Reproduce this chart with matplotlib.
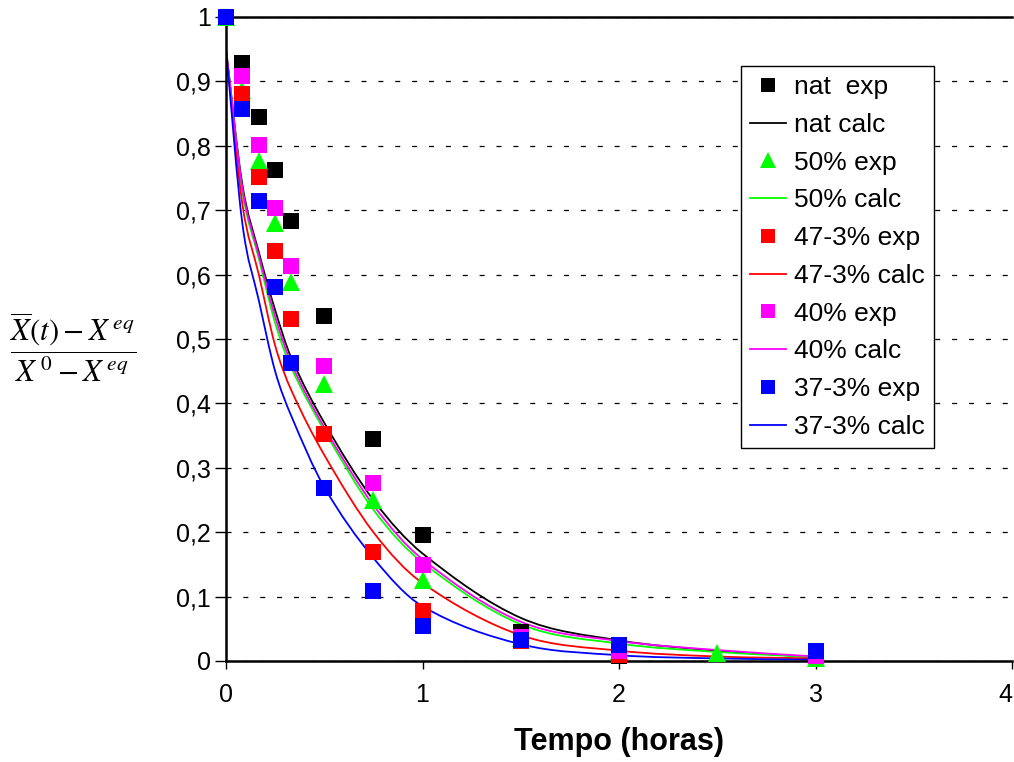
import matplotlib
matplotlib.use('Agg')
import matplotlib.pyplot as plt
import numpy as np
from matplotlib.path import Path
from matplotlib.patches import PathPatch
from matplotlib.lines import Line2D

plt.rcParams['font.family'] = ['Liberation Sans', 'DejaVu Sans']
plt.rcParams['mathtext.fontset'] = 'stix'

# experimental times (hours)
t_exp = [0, 0.083, 0.167, 0.25, 0.333, 0.5, 0.75, 1, 1.5, 2, 2.5, 3]
# calculated curve times (hours)
t_calc = [0, 0.083, 0.167, 0.25, 0.333, 0.5, 0.75, 1, 1.5, 2, 2.5, 3]

nat_exp = [1, 0.929, 0.844, 0.762, 0.683, 0.536, 0.344, 0.196, 0.045, 0.008, None, None]
p50_exp = [1, 0.887, 0.777, 0.680, 0.589, 0.430, 0.250, 0.126, 0.035, 0.015, 0.013, 0.005]
p47_exp = [1, 0.880, 0.752, 0.637, 0.531, 0.352, 0.169, 0.078, 0.031, 0.010, None, 0.010]
p40_exp = [1, 0.908, 0.801, 0.703, 0.613, 0.458, 0.277, 0.149, 0.037, 0.015, None, 0.008]
p37_exp = [1, 0.857, 0.714, 0.581, 0.462, 0.269, 0.109, 0.054, 0.033, 0.025, None, 0.016]

nat_calc = [0.95, 0.740, 0.635, 0.545, 0.470, 0.370, 0.250, 0.167, 0.067, 0.032, 0.016, 0.006]
p50_calc = [0.95, 0.730, 0.625, 0.525, 0.455, 0.358, 0.235, 0.153, 0.057, 0.027, 0.014, 0.006]
p47_calc = [0.95, 0.710, 0.600, 0.490, 0.420, 0.320, 0.200, 0.121, 0.040, 0.016, 0.007, 0.004]
p40_calc = [0.95, 0.735, 0.630, 0.535, 0.462, 0.363, 0.242, 0.158, 0.061, 0.031, 0.017, 0.007]
p37_calc = [0.95, 0.680, 0.560, 0.450, 0.380, 0.270, 0.160, 0.085, 0.026, 0.009, 0.004, 0.002]

exp_labels = ['nat  exp', '50% exp', '47-3% exp', '40% exp', '37-3% exp']
calc_labels = ['nat calc', '50% calc', '47-3% calc', '40% calc', '37-3% calc']
colors = ['#000000', '#00FF00', '#FF0000', '#FF00FF', '#0000FF']
markers = ['s', '^', 's', 's', 's']
exp_series = [nat_exp, p50_exp, p47_exp, p40_exp, p37_exp]
calc_series = [nat_calc, p50_calc, p47_calc, p40_calc, p37_calc]


def smooth_path(x, y):
    # smoothed line through the points (cubic Hermite -> Bezier segments)
    x = np.asarray(x, float)
    y = np.asarray(y, float)
    n = len(x)
    d = np.empty(n)
    d[0] = (y[1] - y[0]) / (x[1] - x[0])
    d[-1] = (y[-1] - y[-2]) / (x[-1] - x[-2])
    for i in range(1, n - 1):
        d[i] = (y[i + 1] - y[i - 1]) / (x[i + 1] - x[i - 1])
    verts = [(x[0], y[0])]
    codes = [Path.MOVETO]
    for i in range(n - 1):
        h = (x[i + 1] - x[i]) / 3
        verts += [(x[i] + h, y[i] + d[i] * h),
                  (x[i + 1] - h, y[i + 1] - d[i + 1] * h),
                  (x[i + 1], y[i + 1])]
        codes += [Path.CURVE4] * 3
    return Path(verts, codes)


fig = plt.figure(figsize=(10.14, 7.62), dpi=100)
ax = fig.add_axes([226 / 1014, 1 - 661 / 762, (1012 - 226) / 1014, (661 - 17) / 762])

# gridlines
ax.set_yticks(np.arange(0, 1.01, 0.1))
ax.grid(axis='y', color='black', linewidth=0.9, linestyle=(0, (4, 9.5)))
ax.set_axisbelow(True)

for i in range(5):
    patch = PathPatch(smooth_path(t_calc, calc_series[i]), facecolor='none',
                      edgecolor=colors[i], linewidth=1.3, zorder=2)
    ax.add_patch(patch)

for i in range(5):
    xs = [t for t, v in zip(t_exp, exp_series[i]) if v is not None]
    ys = [v for v in exp_series[i] if v is not None]
    ms = 12.5 if markers[i] == '^' else 11.3
    ax.plot(xs, ys, linestyle='none', marker=markers[i], markersize=ms,
            color=colors[i], markeredgewidth=0, zorder=3 + i, clip_on=False)

ax.set_xlim(0, 4)
ax.set_ylim(0, 1)
ax.set_xticks([0, 1, 2, 3, 4])
ax.set_yticklabels(['0', '0,1', '0,2', '0,3', '0,4', '0,5', '0,6', '0,7', '0,8', '0,9', '1'])

ax.spines['right'].set_visible(False)
for s in ['left', 'bottom', 'top']:
    ax.spines[s].set_linewidth(1.8)
ax.tick_params(axis='y', direction='out', length=8, width=1, labelsize=18, pad=3)
ax.tick_params(axis='x', direction='out', length=6, width=1, pad=10)
for lab in ax.get_xticklabels():
    lab.set_family(['Liberation Sans Narrow', 'Liberation Sans'])
    lab.set_fontsize(18)
ax.get_xticklabels()[-1].set_horizontalalignment('right')

ax.set_xlabel('Tempo (horas)', fontsize=22, fontweight='bold',
              family=['Liberation Sans Narrow', 'Liberation Sans'], labelpad=14)

fig.text(73 / 1014, 1 - 347 / 762,
         r'$\dfrac{\overline{X}(t)-X^{\,eq}}{X^{\,0}-X^{\,eq}}$',
         fontsize=22, ha='center', va='center')

handles = []
hlabels = []
for i in range(5):
    handles.append(Line2D([], [], linestyle='none', marker=markers[i],
                          markersize=11 if markers[i] == '^' else 10.5,
                          color=colors[i], markeredgewidth=0))
    hlabels.append(exp_labels[i])
    handles.append(Line2D([], [], color=colors[i], linewidth=1.3))
    hlabels.append(calc_labels[i])

leg = fig.legend(handles, hlabels, loc='upper left',
                 bbox_to_anchor=(741 / 1014, 1 - 66 / 762), bbox_transform=fig.transFigure,
                 fontsize=19, frameon=True, fancybox=False, framealpha=1,
                 edgecolor='black', borderaxespad=0, handlelength=1.35,
                 handletextpad=0.3, labelspacing=0.52, borderpad=0.35)
leg.get_frame().set_linewidth(1.0)

fig.savefig('out.png', dpi=100, facecolor='white')
